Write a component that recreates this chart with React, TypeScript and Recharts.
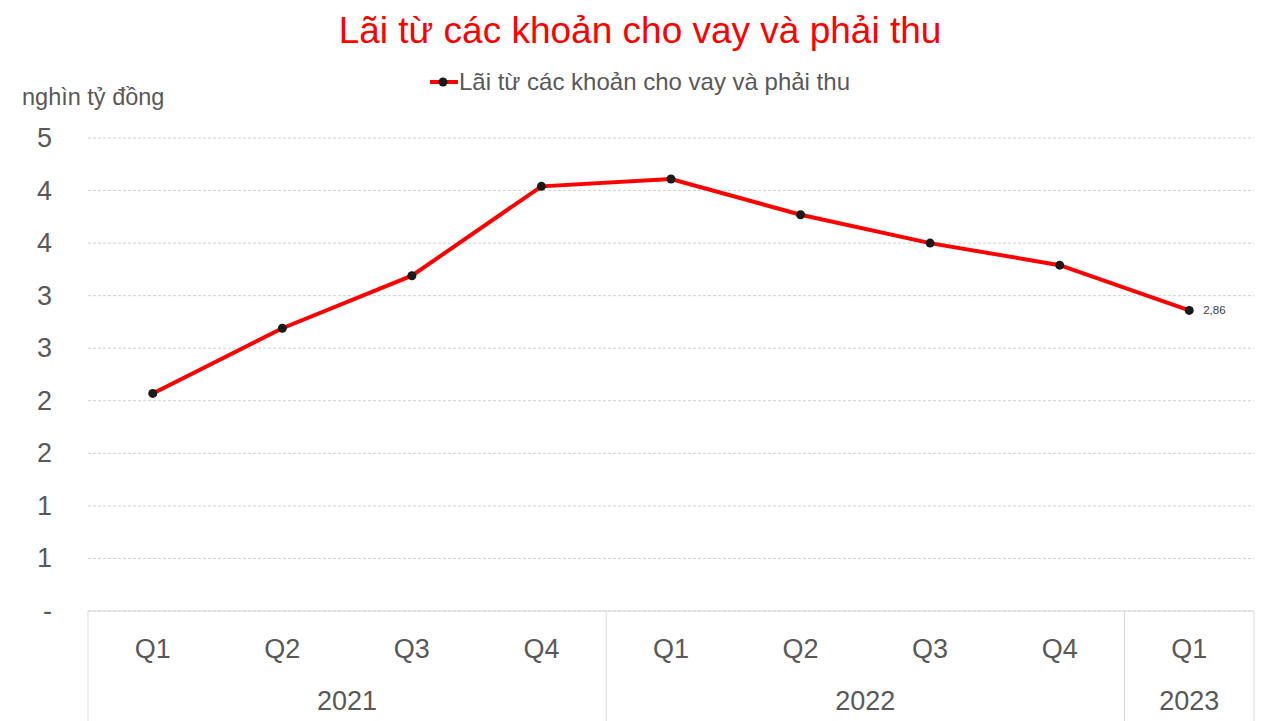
import { LineChart, Line, XAxis, YAxis, CartesianGrid } from 'recharts';

const quarters = ['Q1', 'Q2', 'Q3', 'Q4', 'Q1', 'Q2', 'Q3', 'Q4', 'Q1'];
const years = ['2021', '2021', '2021', '2021', '2022', '2022', '2022', '2022', '2023'];
const interest = [2.07, 2.69, 3.19, 4.04, 4.11, 3.77, 3.5, 3.29, 2.86];
const yTicks = [0, 0.5, 1, 1.5, 2, 2.5, 3, 3.5, 4, 4.5];

const SERIES = 'Lãi từ các khoản cho vay và phải thu';
const FONT = '"Liberation Sans", Arial, sans-serif';
const TEXT = '#595959';
const BORDER = '#d9d9d9';
const PLOT_W = 1166;
const BAND = PLOT_W / quarters.length;

const data = quarters.map((q, i) => ({ key: `${years[i]}-${q}`, q, year: years[i], value: interest[i] }));

function YTick({ x, y, payload }: any) {
  const v = payload.value;
  return (
    <text x={x - 28} y={y} dy={9} textAnchor="end" fontSize={27} fill={TEXT} fontFamily={FONT}>
      {v === 0 ? '-' : Math.round(v)}
    </text>
  );
}

// tick y sits 8px below the axis line
function XTick({ x, y, index }: any) {
  const item = data[index];
  if (!item) return null;
  const top = y - 8;
  const first = index === 0 || data[index - 1].year !== item.year;
  let groupSize = 0;
  if (first) {
    for (let j = index; j < data.length && data[j].year === item.year; j++) groupSize++;
  }
  const left = x - BAND / 2;
  return (
    <g>
      <text x={x} y={top + 47} textAnchor="middle" fontSize={27} fill={TEXT} fontFamily={FONT}>
        {item.q}
      </text>
      {first && (
        <>
          <line x1={left} x2={left} y1={top} y2={top + 120} stroke={BORDER} strokeWidth={1} />
          <text x={left + (groupSize * BAND) / 2} y={top + 99} textAnchor="middle" fontSize={27} fill={TEXT} fontFamily={FONT}>
            {item.year}
          </text>
        </>
      )}
      {index === data.length - 1 && (
        <line x1={x + BAND / 2} x2={x + BAND / 2} y1={top} y2={top + 120} stroke={BORDER} strokeWidth={1} />
      )}
    </g>
  );
}

function LastLabel({ x, y, index, value }: any) {
  if (index !== interest.length - 1) return null;
  return (
    <text x={x + 14} y={y} dy={4} fontSize={11.5} fill="#404040" fontFamily={FONT}>
      {Number(value).toFixed(2).replace('.', ',')}
    </text>
  );
}

export default function App() {
  return (
    <div style={{ position: 'absolute', left: 0, top: 0, width: 1280, height: 721, background: '#fff', fontFamily: FONT, overflow: 'hidden' }}>
      <div style={{ position: 'absolute', top: 10, left: 0, width: 1280, textAlign: 'center', fontSize: 37, color: '#ff0000' }}>
        {SERIES}
      </div>
      <div style={{ position: 'absolute', top: 68, left: 0, width: 1280, display: 'flex', alignItems: 'center', justifyContent: 'center', fontSize: 24, color: TEXT }}>
        <svg width={28} height={12} style={{ marginRight: 1 }}>
          <line x1={0} x2={28} y1={6} y2={6} stroke="#ff0000" strokeWidth={4} />
          <circle cx={13} cy={6} r={4.5} fill="#1a1a1a" />
        </svg>
        <span>{SERIES}</span>
      </div>
      <div style={{ position: 'absolute', top: 84, left: 22, fontSize: 23.5, color: TEXT }}>nghìn tỷ đồng</div>
      <LineChart width={1280} height={721} data={data} margin={{ top: 138, right: 26, left: 0, bottom: 0 }}>
        <CartesianGrid horizontal vertical={false} stroke="#d0d0d0" strokeDasharray="3 2" />
        <XAxis
          dataKey="key"
          height={110}
          padding={{ left: BAND / 2, right: BAND / 2 }}
          tickLine={false}
          axisLine={{ stroke: BORDER }}
          tick={<XTick />}
          interval={0}
        />
        <YAxis
          width={88}
          domain={[0, 4.5]}
          ticks={yTicks}
          tickLine={false}
          axisLine={false}
          tick={<YTick />}
          interval={0}
        />
        <Line
          dataKey="value"
          name={SERIES}
          stroke="#ff0000"
          strokeWidth={4}
          dot={{ r: 4.5, fill: '#1a1a1a', stroke: '#1a1a1a', strokeWidth: 0 }}
          activeDot={false}
          label={<LastLabel />}
          isAnimationActive={false}
        />
      </LineChart>
    </div>
  );
}
